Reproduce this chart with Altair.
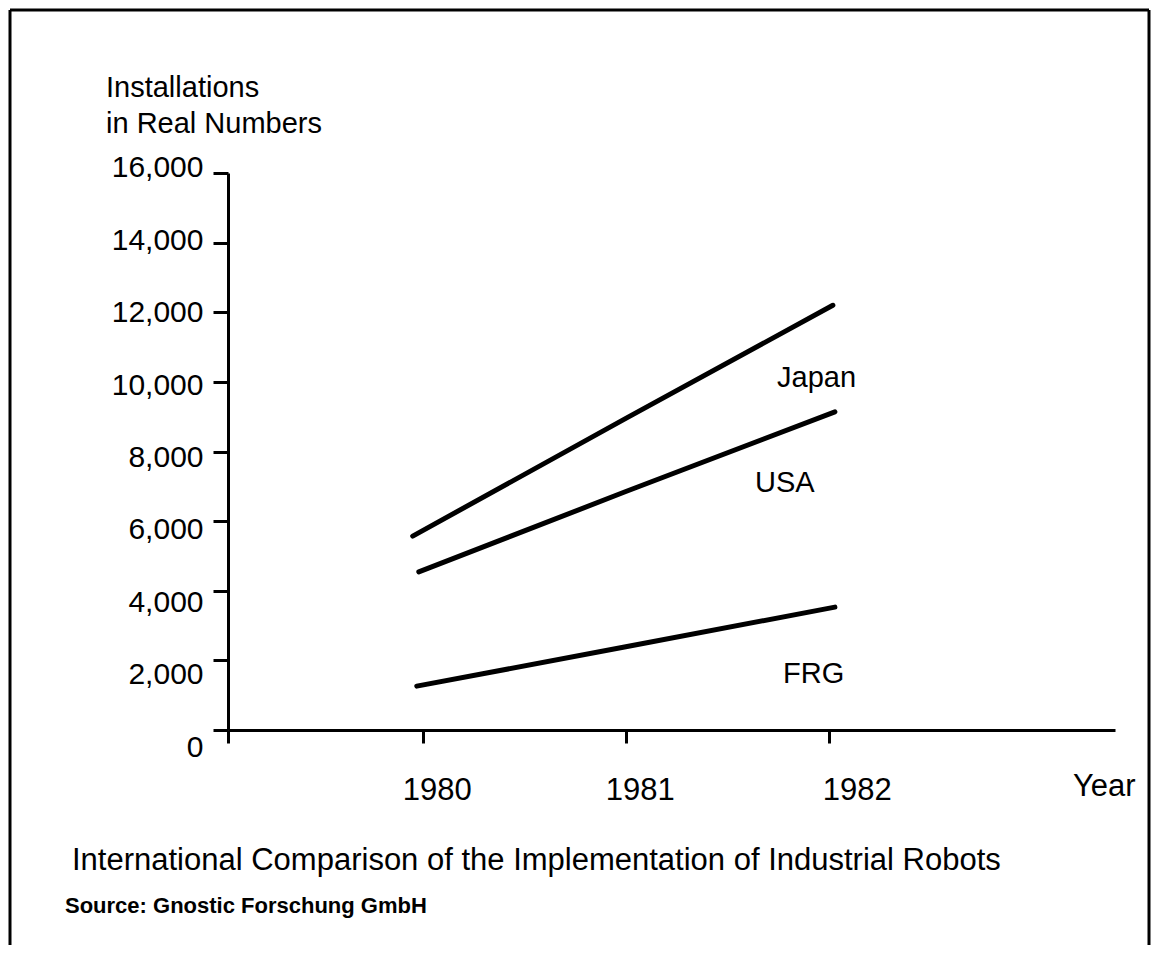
import altair as alt
import pandas as pd

# ---- data ----
countries = ["Japan", "USA", "FRG"]
japan_years = [1979.95, 1981.0, 1982.02]
japan_vals = [5570, 8950, 12200]
usa_years = [1979.98, 1981.0, 1982.03]
usa_vals = [4540, 6850, 9140]
frg_years = [1979.97, 1981.0, 1982.03]
frg_vals = [1260, 2390, 3530]

x_ticks = [1980, 1981, 1982]
y_ticks = [0, 2000, 4000, 6000, 8000, 10000, 12000, 14000, 16000]
x_domain = [1979.04, 1983.41]
y_domain = [0, 16000]

title_text = "International Comparison of the Implementation of Industrial Robots"
source_text = "Source: Gnostic Forschung GmbH"
y_title_lines = ["Installations", "in Real Numbers"]
x_title = "Year"

FONT = "Liberation Sans"

rows = []
for name, xs, vs in zip(countries, [japan_years, usa_years, frg_years],
                        [japan_vals, usa_vals, frg_vals]):
    for xv, vv in zip(xs, vs):
        rows.append({"country": name, "year": xv, "value": vv})
df = pd.DataFrame(rows)

x_enc = alt.X(
    "year:Q",
    scale=alt.Scale(domain=x_domain, nice=False, zero=False),
    axis=alt.Axis(
        values=[x_domain[0]] + x_ticks,
        labelExpr="datum.value < 1979.5 ? '' : format(datum.value, 'd')",
        title=None, grid=False,
        domainColor="black", domainWidth=3,
        tickColor="black", tickWidth=3, tickSize=13,
        labelColor="black", labelFont=FONT, labelFontSize=31,
        labelPadding=32, labelFlush=False, labelOverlap=False,
        labelOffset={"expr": "datum.value > 1981.5 ? 28 : 14"},
    ),
)
y_enc = alt.Y(
    "value:Q",
    scale=alt.Scale(domain=y_domain, nice=False),
    axis=alt.Axis(
        values=y_ticks,
        labelExpr="format(datum.value, ',.0f')",
        title=None, grid=False,
        domainColor="black", domainWidth=3,
        tickColor="black", tickWidth=3, tickSize=15,
        labelColor="black", labelFont=FONT, labelFontSize=30,
        labelPadding=10, labelFlush=False, labelOverlap=False,
        labelOffset={"expr": "17 - datum.value / 727"},
    ),
)

lines = alt.Chart(df).mark_line(
    color="black", strokeWidth=5, strokeCap="round"
).encode(x=x_enc, y=y_enc, detail="country:N")


def txt(text, x, y, size, weight="normal"):
    return alt.Chart(alt.Data(values=[{}])).mark_text(
        text=text, align="left", baseline="alphabetic", font=FONT,
        fontSize=size, fontWeight=weight, color="black"
    ).encode(x=alt.value(x), y=alt.value(y))


def rule(x, y, x2=None, y2=None):
    enc = {"x": alt.value(x), "y": alt.value(y)}
    if x2 is not None:
        enc["x2"] = alt.value(x2)
    if y2 is not None:
        enc["y2"] = alt.value(y2)
    return alt.Chart(alt.Data(values=[{}])).mark_rule(
        color="black", strokeWidth=3
    ).encode(**enc)


texts = [
    txt(y_title_lines[0], -122, -76, 29),
    txt(y_title_lines[1], -122, -40, 29),
    txt(countries[0], 549, 214, 29),
    txt(countries[1], 527, 319, 29),
    txt(countries[2], 555, 510, 29),
    txt(x_title, 845, 623, 31),
    txt(title_text, -156, 697, 31),
    txt(source_text, -163, 740, 22, "bold"),
]

borders = [
    rule(-218, -163, x2=921),
    rule(-218, -163, y2=780),
    rule(921, -163, y2=780),
]

chart = alt.layer(lines, *texts, *borders).properties(
    width=887, height=557,
    autosize=alt.AutoSizeParams(type="none"),
    padding={"left": 220, "top": 165, "right": 37, "bottom": 215},
    background="white",
).configure_view(stroke=None)

chart.save("out.html", embed_options={"renderer": "svg", "actions": False})
